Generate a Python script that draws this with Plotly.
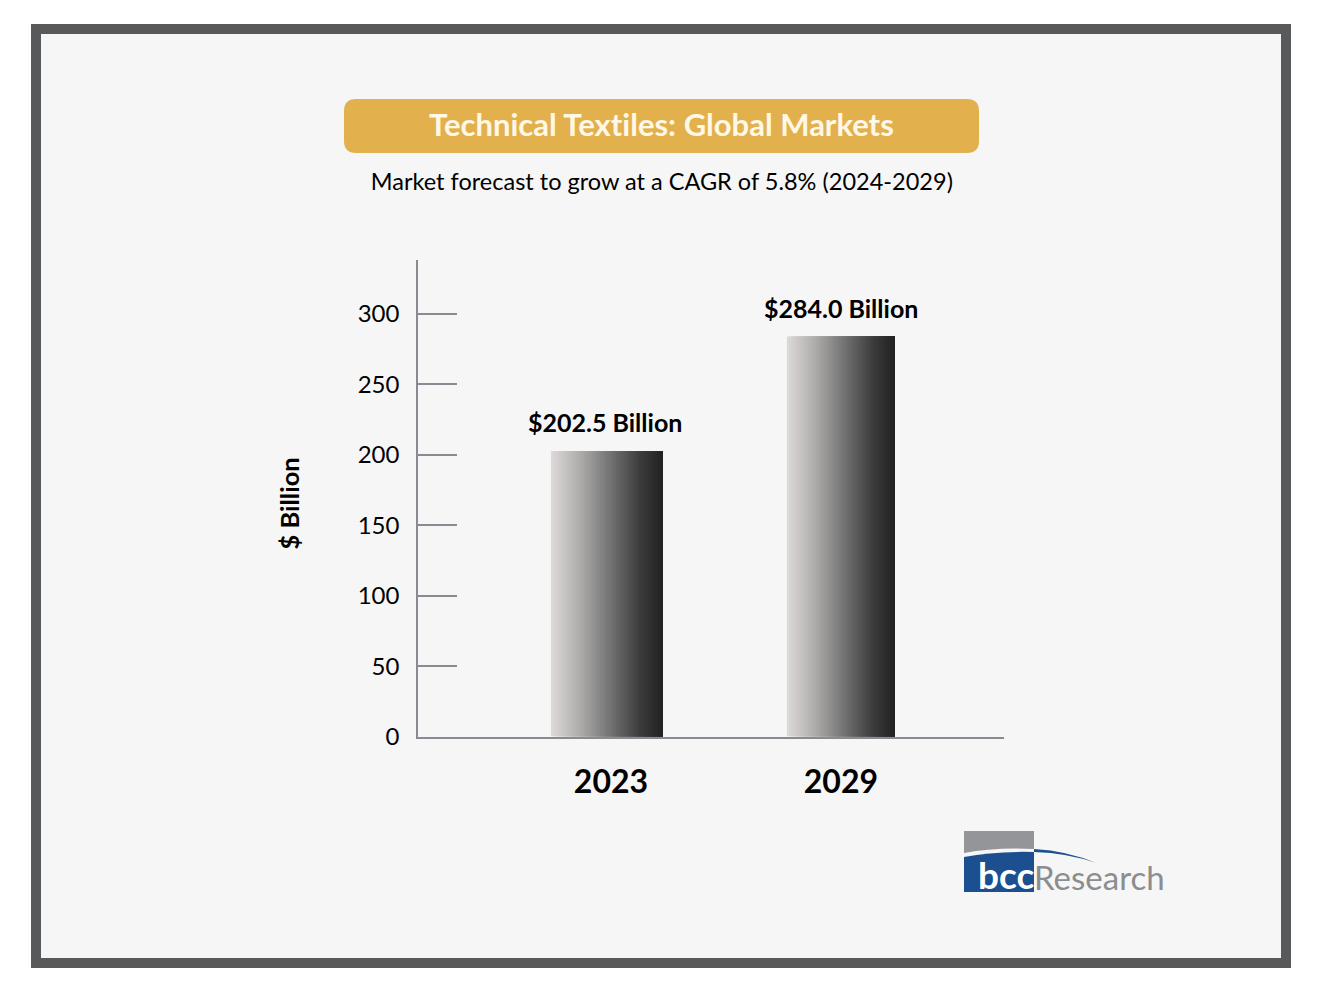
import plotly.graph_objects as go

# Chart data
years = ["2023", "2029"]
market_size = [202.5, 284.0]
bar_labels = ["$202.5 Billion", "$284.0 Billion"]
y_ticks = [0, 50, 100, 150, 200, 250, 300]

# Bar geometry, in units of the category axis
bar_start = [-0.261, -0.235]
bar_width = [0.487, 0.47]

# Grey stops for the bar shading, left to right
shade_stops = [(0.0, (222, 218, 217)), (0.25, (176, 175, 174)), (0.55, (112, 111, 111)),
               (0.8, (60, 60, 60)), (1.0, (32, 33, 34))]
n_strips = 48

W = 1323
H = 992
FONT = "Lato"
FRAME = "#58595b"
BG = "#f6f6f6"
GOLD = "#e2b14d"
BLUE = "#1c4f8f"
LOGO_GREY = "#939598"
AXIS = "#8a8b92"


def px(x):
    return x / W


def py(y):
    return 1 - y / H


def shade(t):
    for (t0, c0), (t1, c1) in zip(shade_stops, shade_stops[1:]):
        if t <= t1:
            f = (t - t0) / (t1 - t0)
            return "rgb(%d,%d,%d)" % tuple(c0[k] + f * (c1[k] - c0[k]) for k in range(3))
    return "rgb(%d,%d,%d)" % shade_stops[-1][1]


def rect(x0, y0, x1, y1, color):
    return dict(type="rect", xref="paper", yref="paper", x0=px(x0), x1=px(x1), y0=py(y0), y1=py(y1),
                fillcolor=color, line_width=0, layer="below")


def path(points, color):
    # points is a pixel path: letters stay, pairs get converted to paper fractions
    parts = []
    for p in points:
        if isinstance(p, str):
            parts.append(p)
        else:
            parts.append("%.5f,%.5f" % (px(p[0]), py(p[1])))
    return dict(type="path", xref="paper", yref="paper", path=" ".join(parts),
                fillcolor=color, line_width=0, layer="below")


def label(text, x, y, size, color="black", bold=False, family=FONT, angle=0):
    t = "<b>%s</b>" % text if bold else text
    return dict(text=t, xref="paper", yref="paper", x=px(x), y=py(y), showarrow=False, textangle=angle,
                xanchor="center", yanchor="middle", font=dict(family=family, size=size, color=color))


fig = go.Figure()

# Each strip runs to the bar's right edge, later strips paint over earlier ones
for i in range(n_strips):
    t = i / n_strips
    fig.add_trace(go.Bar(
        x=years,
        y=market_size,
        width=[w * (1 - t) for w in bar_width],
        offset=[s + w * t for s, w in zip(bar_start, bar_width)],
        marker=dict(color=shade((i + 0.5) / n_strips), line_width=0),
        showlegend=False,
        hoverinfo="skip",
    ))

shapes = [
    rect(31, 24, 1291, 968, FRAME),
    rect(41, 34, 1281, 958, BG),
    # Title pill
    path(["M", (356, 99), "L", (967, 99), "Q", (979, 99), (979, 111), "L", (979, 141),
          "Q", (979, 153), (967, 153), "L", (356, 153), "Q", (344, 153), (344, 141),
          "L", (344, 111), "Q", (344, 99), (356, 99), "Z"], GOLD),
    # Logo
    path(["M", (964, 831), "L", (1034, 831), "L", (1034, 849), "Q", (995, 847), (964, 853), "Z"], LOGO_GREY),
    path(["M", (964, 857), "Q", (995, 851), (1034, 852), "L", (1034, 892), "L", (964, 892), "Z"], BLUE),
    path(["M", (1034, 849), "Q", (1068, 851), (1096, 863), "Q", (1068, 853), (1034, 852), "Z"], BLUE),
]

annotations = [
    label("Technical Textiles: Global Markets", 661.5, 124, 31, color="#fff8e6", bold=True),
    label("Market forecast to grow at a CAGR of 5.8% (2024-2029)", 661.5, 181, 23.5),
    label("$ Billion", 288.5, 504, 25.5, bold=True, angle=-90),
    label("bcc", 1006, 874, 37, color="white", bold=True),
    label("Research", 1099, 877, 33, color="#8b8d8f"),
]

# Value labels above the bars
label_shift = [-6, 0]
for i, (value, text, shift) in enumerate(zip(market_size, bar_labels, label_shift)):
    annotations.append(dict(text="<b>%s</b>" % text, x=i, y=value, xref="x", yref="y", showarrow=False,
                            xanchor="center", yanchor="bottom", xshift=shift, yshift=12,
                            font=dict(family=FONT, size=25, color="black")))

fig.update_layout(
    width=W,
    height=H,
    autosize=False,
    margin=dict(l=0, r=0, t=0, b=0),
    paper_bgcolor="white",
    plot_bgcolor="rgba(0,0,0,0)",
    barmode="overlay",
    shapes=shapes,
    annotations=annotations,
    xaxis=dict(
        domain=[px(418), px(1004)],
        type="category",
        range=[-0.839, 1.709],
        automargin=False,
        showgrid=False,
        zeroline=False,
        showline=True,
        linecolor=AXIS,
        linewidth=1.5,
        ticks="",
        ticklabelstandoff=16,
        tickfont=dict(family=FONT, size=32, color="black", weight="bold"),
    ),
    yaxis=dict(
        domain=[py(736.5), py(260)],
        range=[0, 338.4],
        tickvals=y_ticks,
        automargin=False,
        showgrid=False,
        zeroline=False,
        showline=True,
        linecolor=AXIS,
        linewidth=1.5,
        ticks="inside",
        ticklen=39,
        tickwidth=1.5,
        tickcolor=AXIS,
        ticklabelstandoff=12,
        tickfont=dict(family=FONT, size=24, color="black"),
    ),
)

# Drop the page's default margin so the figure sits at the window's corner
fig.write_html("out.html", default_width="1323px", default_height="992px",
               config=dict(displayModeBar=False),
               post_script="document.body.style.margin='0';"
                           "var s=document.createElement('style');"
                           "s.textContent='text{letter-spacing:.01px;font-feature-settings:\"liga\" 0,\"clig\" 0}';"
                           "document.head.appendChild(s);")
